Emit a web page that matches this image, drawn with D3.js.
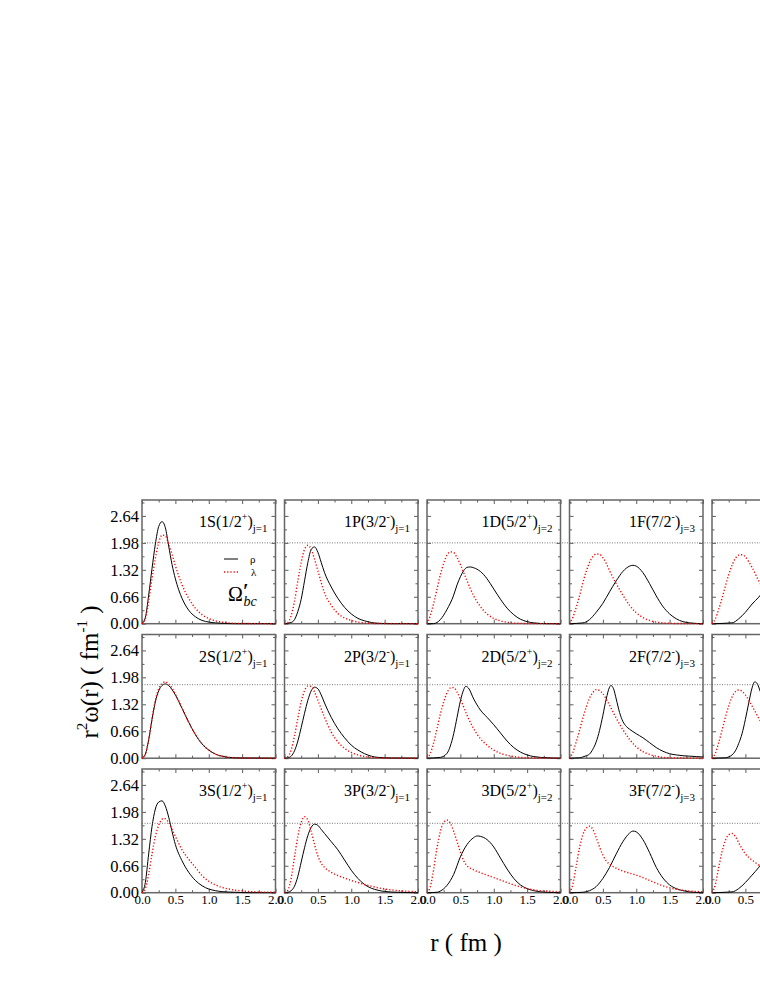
<!DOCTYPE html>
<html><head><meta charset="utf-8">
<script src="https://cdn.jsdelivr.net/npm/d3@7"></script>
<style>body{margin:0;background:#fff}svg{display:block}</style>
</head><body>
<svg id="c" width="760" height="984"></svg>
<script>
// ---------- DATA ----------
const stateNames = [["1S","1P","1D","1F","1G"],["2S","2P","2D","2F","2G"],["3S","3P","3D","3F","3G"]];
const spins = ["1/2","3/2","5/2","7/2","9/2"];
const parities = ["+","-","+","-","+"];
const jValues = ["1","1","2","3","4"];
const refLines = [1.98, 1.80, 1.70];
const xTicks = [0, 0.5, 1.0, 1.5, 2.0];
const xMinor = [0.25, 0.75, 1.25, 1.75];
const yTicks = [0, 0.66, 1.32, 1.98, 2.64];
const yMinor = [0.33, 0.99, 1.65, 2.31, 2.97];
const legendNames = ["ρ", "λ"];

const rho1S = [[0,0],[0.05,0.15],[0.1,0.7],[0.15,1.35],[0.2,1.95],[0.25,2.38],[0.3,2.5],[0.35,2.35],[0.4,1.9],[0.45,1.45],[0.5,1.1],[0.55,0.83],[0.6,0.62],[0.7,0.33],[0.8,0.17],[0.9,0.08],[1.0,0.04],[1.1,0.02],[1.2,0.01],[1.4,0],[2.0,0]];
const lam1S = [[0,0],[0.05,0.12],[0.1,0.55],[0.15,1.1],[0.2,1.6],[0.25,1.98],[0.3,2.17],[0.35,2.15],[0.4,1.95],[0.45,1.7],[0.5,1.42],[0.6,0.95],[0.7,0.62],[0.8,0.38],[0.9,0.22],[1.0,0.13],[1.1,0.07],[1.2,0.04],[1.3,0.02],[1.5,0.005],[2.0,0]];
const rho1P = [[0,0],[0.1,0.03],[0.15,0.1],[0.2,0.3],[0.25,0.6],[0.3,1.05],[0.35,1.5],[0.4,1.82],[0.45,1.88],[0.5,1.75],[0.55,1.5],[0.6,1.25],[0.7,0.9],[0.8,0.62],[0.9,0.4],[1.0,0.24],[1.1,0.13],[1.2,0.07],[1.3,0.03],[1.4,0.01],[1.6,0],[2.0,0]];
const lam1P = [[0,0],[0.05,0.03],[0.1,0.2],[0.15,0.55],[0.2,1.05],[0.25,1.5],[0.3,1.82],[0.35,1.92],[0.4,1.82],[0.45,1.58],[0.5,1.3],[0.6,0.75],[0.7,0.45],[0.8,0.25],[0.9,0.14],[1.0,0.08],[1.1,0.04],[1.2,0.02],[1.4,0.005],[2.0,0]];
const rho1D = [[0,0],[0.1,0],[0.15,0.03],[0.2,0.1],[0.3,0.35],[0.4,0.7],[0.45,0.95],[0.5,1.15],[0.55,1.3],[0.6,1.38],[0.65,1.39],[0.7,1.37],[0.8,1.28],[0.9,1.1],[1.0,0.85],[1.1,0.6],[1.2,0.38],[1.3,0.22],[1.4,0.11],[1.5,0.05],[1.6,0.02],[1.8,0],[2.0,0]];
const lam1D = [[0,0],[0.05,0.2],[0.1,0.5],[0.15,0.85],[0.2,1.2],[0.25,1.48],[0.3,1.68],[0.35,1.76],[0.4,1.74],[0.45,1.62],[0.5,1.45],[0.55,1.25],[0.6,1.05],[0.7,0.68],[0.8,0.42],[0.9,0.24],[1.0,0.13],[1.1,0.07],[1.2,0.035],[1.3,0.015],[1.5,0.005],[2.0,0]];
const rho1F = [[0,0],[0.2,0.02],[0.3,0.1],[0.4,0.28],[0.5,0.5],[0.6,0.78],[0.7,1.05],[0.8,1.28],[0.9,1.41],[0.95,1.43],[1.0,1.41],[1.1,1.25],[1.2,0.98],[1.3,0.68],[1.4,0.42],[1.5,0.24],[1.6,0.12],[1.7,0.05],[1.8,0.02],[2.0,0]];
const lam1F = [[0,0],[0.05,0.15],[0.1,0.4],[0.15,0.68],[0.2,1.0],[0.25,1.28],[0.3,1.5],[0.35,1.64],[0.4,1.71],[0.45,1.7],[0.5,1.62],[0.55,1.48],[0.6,1.3],[0.7,0.98],[0.8,0.7],[0.9,0.45],[1.0,0.27],[1.1,0.15],[1.2,0.08],[1.3,0.04],[1.4,0.02],[1.6,0.005],[2.0,0]];
const rho1G = [[0,0],[0.3,0.02],[0.4,0.12],[0.5,0.28],[0.6,0.48],[0.7,0.65],[0.8,0.85],[0.9,1.05],[1.0,1.2],[1.1,1.28],[1.2,1.28],[1.3,1.18],[1.4,0.98],[1.5,0.74],[1.6,0.5],[1.7,0.3],[1.8,0.16],[1.9,0.08],[2.0,0.04]];
const lam1G = [[0,0],[0.05,0.12],[0.1,0.35],[0.15,0.62],[0.2,0.92],[0.25,1.2],[0.3,1.43],[0.35,1.6],[0.4,1.68],[0.45,1.69],[0.5,1.64],[0.55,1.52],[0.6,1.38],[0.7,1.05],[0.8,0.78],[0.9,0.52],[1.0,0.33],[1.1,0.19],[1.2,0.1],[1.4,0.03],[1.6,0.01],[2.0,0]];

const rho2S = [[0,0],[0.05,0.1],[0.1,0.45],[0.15,0.95],[0.2,1.38],[0.25,1.65],[0.3,1.78],[0.35,1.82],[0.4,1.78],[0.45,1.68],[0.5,1.55],[0.6,1.22],[0.7,0.88],[0.8,0.58],[0.9,0.35],[1.0,0.2],[1.1,0.1],[1.2,0.05],[1.3,0.02],[1.5,0.005],[2.0,0]];
const lam2S = [[0,0],[0.05,0.1],[0.1,0.45],[0.15,0.97],[0.2,1.42],[0.25,1.7],[0.3,1.83],[0.35,1.87],[0.4,1.82],[0.45,1.72],[0.5,1.57],[0.6,1.23],[0.7,0.88],[0.8,0.58],[0.9,0.35],[1.0,0.2],[1.1,0.1],[1.2,0.05],[1.3,0.02],[1.5,0.005],[2.0,0]];
const rho2P = [[0,0],[0.05,0.01],[0.1,0.05],[0.15,0.18],[0.2,0.42],[0.25,0.75],[0.3,1.1],[0.35,1.42],[0.4,1.65],[0.45,1.74],[0.5,1.7],[0.55,1.55],[0.6,1.35],[0.7,1.0],[0.8,0.72],[0.9,0.5],[1.0,0.32],[1.1,0.2],[1.2,0.11],[1.3,0.05],[1.4,0.02],[1.6,0.005],[2.0,0]];
const lam2P = [[0,0],[0.05,0.04],[0.1,0.2],[0.15,0.55],[0.2,0.98],[0.25,1.38],[0.3,1.65],[0.35,1.77],[0.4,1.76],[0.45,1.62],[0.5,1.42],[0.6,1.0],[0.7,0.64],[0.8,0.4],[0.9,0.24],[1.0,0.14],[1.1,0.08],[1.2,0.04],[1.3,0.02],[1.5,0.005],[2.0,0]];
const rho2D = [[0,0],[0.2,0.02],[0.3,0.12],[0.35,0.3],[0.4,0.6],[0.45,1.0],[0.5,1.4],[0.55,1.68],[0.58,1.76],[0.62,1.72],[0.7,1.45],[0.8,1.18],[0.9,1.0],[1.0,0.82],[1.1,0.62],[1.2,0.42],[1.3,0.26],[1.4,0.15],[1.5,0.08],[1.6,0.04],[1.8,0.01],[2.0,0]];
const lam2D = [[0,0],[0.05,0.12],[0.1,0.38],[0.15,0.72],[0.2,1.08],[0.25,1.38],[0.3,1.6],[0.35,1.72],[0.4,1.73],[0.45,1.62],[0.5,1.45],[0.6,1.05],[0.7,0.72],[0.8,0.48],[0.9,0.32],[1.0,0.2],[1.1,0.12],[1.2,0.07],[1.3,0.04],[1.5,0.01],[2.0,0]];
const rho2F = [[0,0],[0.15,0.01],[0.2,0.03],[0.25,0.06],[0.3,0.1],[0.35,0.22],[0.4,0.4],[0.45,0.68],[0.5,1.05],[0.55,1.45],[0.6,1.74],[0.62,1.78],[0.66,1.7],[0.7,1.45],[0.75,1.12],[0.8,0.9],[0.85,0.78],[0.9,0.71],[1.0,0.6],[1.1,0.5],[1.2,0.38],[1.3,0.26],[1.4,0.17],[1.5,0.11],[1.6,0.08],[1.7,0.06],[1.8,0.05],[1.9,0.04],[2.0,0.03]];
const lam2F = [[0,0],[0.05,0.14],[0.1,0.4],[0.15,0.68],[0.2,0.98],[0.25,1.25],[0.3,1.47],[0.35,1.61],[0.4,1.68],[0.45,1.66],[0.5,1.58],[0.55,1.45],[0.6,1.3],[0.7,0.98],[0.8,0.7],[0.9,0.46],[1.0,0.28],[1.1,0.16],[1.2,0.09],[1.3,0.05],[1.4,0.02],[1.6,0.005],[2.0,0]];
const rho2G = [[0,0],[0.2,0.01],[0.25,0.03],[0.3,0.08],[0.35,0.18],[0.4,0.36],[0.45,0.6],[0.5,0.95],[0.55,1.35],[0.6,1.72],[0.64,1.87],[0.68,1.82],[0.72,1.65],[0.8,1.3],[0.9,1.05],[1.0,0.9],[1.1,0.75],[1.2,0.58],[1.3,0.42],[1.4,0.28],[1.5,0.18],[1.6,0.11],[1.7,0.07],[1.8,0.05],[2.0,0.03]];
const lam2G = [[0,0],[0.05,0.12],[0.1,0.38],[0.15,0.68],[0.2,1.0],[0.25,1.28],[0.3,1.5],[0.35,1.63],[0.4,1.67],[0.45,1.64],[0.5,1.55],[0.55,1.42],[0.6,1.28],[0.7,0.98],[0.8,0.72],[0.9,0.5],[1.0,0.33],[1.1,0.2],[1.2,0.12],[1.4,0.04],[1.6,0.01],[2.0,0]];

const rho3S = [[0,0],[0.05,0.25],[0.1,0.95],[0.15,1.62],[0.2,2.05],[0.25,2.22],[0.3,2.25],[0.35,2.12],[0.4,1.85],[0.45,1.5],[0.5,1.18],[0.6,0.78],[0.7,0.5],[0.8,0.3],[0.9,0.17],[1.0,0.09],[1.1,0.05],[1.2,0.025],[1.4,0.01],[1.6,0],[2.0,0]];
const lam3S = [[0,0],[0.05,0.1],[0.1,0.45],[0.15,0.95],[0.2,1.38],[0.25,1.65],[0.3,1.8],[0.33,1.82],[0.35,1.81],[0.4,1.72],[0.45,1.55],[0.5,1.38],[0.6,1.05],[0.7,0.82],[0.8,0.62],[0.9,0.42],[1.0,0.28],[1.1,0.19],[1.2,0.13],[1.3,0.09],[1.4,0.06],[1.5,0.045],[1.6,0.03],[1.8,0.015],[2.0,0.01]];
const rho3P = [[0,0],[0.05,0.01],[0.1,0.05],[0.15,0.16],[0.2,0.4],[0.25,0.75],[0.3,1.1],[0.35,1.4],[0.4,1.6],[0.45,1.68],[0.5,1.65],[0.55,1.55],[0.6,1.45],[0.7,1.25],[0.8,1.05],[0.9,0.8],[1.0,0.55],[1.1,0.35],[1.2,0.2],[1.3,0.11],[1.4,0.06],[1.5,0.03],[1.7,0.01],[2.0,0]];
const lam3P = [[0,0],[0.05,0.06],[0.1,0.35],[0.15,0.88],[0.2,1.38],[0.25,1.72],[0.3,1.86],[0.35,1.78],[0.4,1.5],[0.45,1.18],[0.5,0.9],[0.55,0.72],[0.6,0.62],[0.7,0.5],[0.8,0.42],[0.9,0.36],[1.0,0.3],[1.1,0.25],[1.2,0.2],[1.3,0.16],[1.4,0.12],[1.5,0.09],[1.6,0.07],[1.7,0.05],[1.8,0.04],[1.9,0.03],[2.0,0.02]];
const rho3D = [[0,0],[0.15,0.01],[0.2,0.04],[0.3,0.18],[0.4,0.45],[0.5,0.88],[0.6,1.18],[0.7,1.35],[0.75,1.39],[0.8,1.38],[0.9,1.3],[1.0,1.12],[1.1,0.85],[1.2,0.58],[1.3,0.35],[1.4,0.19],[1.5,0.1],[1.6,0.05],[1.8,0.01],[2.0,0]];
const lam3D = [[0,0],[0.05,0.15],[0.1,0.58],[0.15,1.1],[0.2,1.5],[0.25,1.72],[0.3,1.78],[0.35,1.7],[0.4,1.5],[0.45,1.25],[0.5,1.0],[0.55,0.78],[0.6,0.66],[0.7,0.56],[0.8,0.49],[0.9,0.43],[1.0,0.37],[1.1,0.31],[1.2,0.25],[1.3,0.19],[1.4,0.14],[1.5,0.1],[1.6,0.07],[1.7,0.05],[1.8,0.04],[2.0,0.02]];
const rho3F = [[0,0],[0.2,0.01],[0.3,0.05],[0.4,0.15],[0.5,0.35],[0.6,0.62],[0.7,0.95],[0.8,1.25],[0.9,1.46],[0.95,1.51],[1.0,1.49],[1.1,1.3],[1.2,0.98],[1.3,0.62],[1.4,0.36],[1.5,0.19],[1.6,0.1],[1.7,0.05],[1.8,0.02],[2.0,0]];
const lam3F = [[0,0],[0.05,0.2],[0.1,0.65],[0.15,1.1],[0.2,1.42],[0.25,1.58],[0.3,1.63],[0.35,1.55],[0.4,1.35],[0.45,1.12],[0.5,0.92],[0.55,0.78],[0.6,0.7],[0.7,0.6],[0.8,0.53],[0.9,0.48],[1.0,0.43],[1.1,0.37],[1.2,0.3],[1.3,0.23],[1.4,0.17],[1.5,0.12],[1.6,0.08],[1.7,0.06],[1.8,0.04],[1.9,0.03],[2.0,0.02]];
const rho3G = [[0,0],[0.3,0.02],[0.4,0.1],[0.5,0.25],[0.6,0.43],[0.7,0.62],[0.8,0.85],[0.9,1.05],[1.0,1.22],[1.1,1.33],[1.2,1.35],[1.3,1.25],[1.4,1.02],[1.5,0.75],[1.6,0.5],[1.7,0.3],[1.8,0.16],[1.9,0.08],[2.0,0.04]];
const lam3G = [[0,0],[0.05,0.2],[0.1,0.62],[0.15,1.0],[0.2,1.28],[0.25,1.42],[0.3,1.45],[0.35,1.38],[0.4,1.22],[0.45,1.08],[0.5,0.95],[0.6,0.8],[0.7,0.68],[0.8,0.6],[0.9,0.54],[1.0,0.48],[1.2,0.38],[1.4,0.27],[1.6,0.17],[1.8,0.1],[2.0,0.06]];

const rhoCurves = [[rho1S,rho1P,rho1D,rho1F,rho1G],[rho2S,rho2P,rho2D,rho2F,rho2G],[rho3S,rho3P,rho3D,rho3F,rho3G]];
const lamCurves = [[lam1S,lam1P,lam1D,lam1F,lam1G],[lam2S,lam2P,lam2D,lam2F,lam2G],[lam3S,lam3P,lam3D,lam3F,lam3G]];

// ---------- LAYOUT ----------
const FONT = "'Liberation Serif','Times New Roman',serif";
const W = 760;
const colLeft = [142, 284.5, 427, 569.5, 712];
const rowTop = [500, 634.5, 769];
const panelW = 133.5, panelH = 123.7;
const svg = d3.select("#c");
const x = d3.scaleLinear().domain([0, 2]).range([0, panelW]);
const y = d3.scaleLinear().domain([0, 3.03]).range([panelH, 0]);
const line = d3.line().x(d => x(d[0])).y(d => y(d[1])).curve(d3.curveMonotoneX);

function styleAxis(g) {
  g.select(".domain").remove();
  g.selectAll(".tick line").attr("stroke", "#333").attr("stroke-width", 0.8);
  g.selectAll("text").attr("font-family", FONT).attr("fill", "#000");
}

rowTop.forEach((top, r) => {
  colLeft.forEach((left, c) => {
    const g = svg.append("g").attr("transform", `translate(${left},${top})`);
    g.append("g").call(d3.axisLeft(y).tickValues(yTicks).tickSizeInner(-4).tickSizeOuter(0).tickPadding(3)
        .tickFormat(c === 0 ? d3.format(".2f") : () => ""))
      .call(styleAxis).selectAll("text").attr("font-size", 16.5);
    g.append("g").call(d3.axisLeft(y).tickValues(yMinor).tickSizeInner(-2.5).tickSizeOuter(0).tickFormat(() => "")).call(styleAxis);
    g.append("g").attr("transform", `translate(${panelW},0)`)
      .call(d3.axisRight(y).tickValues(yTicks).tickSizeInner(-4).tickSizeOuter(0).tickFormat(() => "")).call(styleAxis);
    g.append("g").attr("transform", `translate(${panelW},0)`)
      .call(d3.axisRight(y).tickValues(yMinor).tickSizeInner(-2.5).tickSizeOuter(0).tickFormat(() => "")).call(styleAxis);
    g.append("g").attr("transform", `translate(0,${panelH})`)
      .call(d3.axisBottom(x).tickValues(xTicks).tickSizeInner(-4).tickSizeOuter(0).tickPadding(2)
        .tickFormat(d => (r === 2 && left + x(d) + 8 <= W) ? d3.format(".1f")(d) : ""))
      .call(styleAxis).selectAll("text").attr("font-size", 13);
    g.append("g").attr("transform", `translate(0,${panelH})`)
      .call(d3.axisBottom(x).tickValues(xMinor).tickSizeInner(-2.5).tickSizeOuter(0).tickFormat(() => "")).call(styleAxis);
    g.append("g").call(d3.axisTop(x).tickValues(xTicks).tickSizeInner(-4).tickSizeOuter(0).tickFormat(() => "")).call(styleAxis);
    g.append("g").call(d3.axisTop(x).tickValues(xMinor).tickSizeInner(-2.5).tickSizeOuter(0).tickFormat(() => "")).call(styleAxis);

    g.append("rect").attr("width", panelW).attr("height", panelH)
      .attr("fill", "none").attr("stroke", "#666").attr("stroke-width", 1.5);

    g.append("path").datum(rhoCurves[r][c]).attr("d", line)
      .attr("fill", "none").attr("stroke", "#000").attr("stroke-width", 1);
    g.append("path").datum(lamCurves[r][c]).attr("d", line)
      .attr("fill", "none").attr("stroke", "#ff0000").attr("stroke-width", 1.4)
      .attr("stroke-dasharray", "1.2 2");

    if (left + panelW <= W) {
      const t = g.append("text").attr("x", panelW - 8).attr("y", 27)
        .attr("text-anchor", "end").attr("font-family", FONT).attr("font-size", 16).attr("fill", "#000");
      t.append("tspan").text(`${stateNames[r][c]}(${spins[c]}`);
      t.append("tspan").attr("font-size", 10).attr("dy", -7).text(parities[c]);
      t.append("tspan").attr("dy", 7).text(")");
      t.append("tspan").attr("font-size", 11).attr("dy", 5).text(`j=${jValues[c]}`);
    }
  });

  const ry = top + y(refLines[r]);
  svg.append("line").attr("x1", colLeft[0]).attr("x2", W).attr("y1", ry).attr("y2", ry)
    .attr("stroke", "#555").attr("stroke-width", 0.8).attr("stroke-dasharray", "1 1.5");
});

// legend in first panel
const lg = svg.append("g").attr("transform", `translate(${colLeft[0]},${rowTop[0]})`);
lg.append("line").attr("x1", 82).attr("x2", 96).attr("y1", 59).attr("y2", 59).attr("stroke", "#000").attr("stroke-width", 1);
lg.append("text").attr("x", 108).attr("y", 63).attr("font-family", FONT).attr("font-size", 11).text(legendNames[0]);
lg.append("line").attr("x1", 82).attr("x2", 96).attr("y1", 72).attr("y2", 72).attr("stroke", "#ff0000").attr("stroke-width", 1.4).attr("stroke-dasharray", "1.2 2");
lg.append("text").attr("x", 109).attr("y", 76).attr("font-family", FONT).attr("font-size", 11).text(legendNames[1]);
const om = lg.append("text").attr("x", 86).attr("y", 101).attr("font-family", FONT).attr("font-size", 20);
om.append("tspan").text("Ω");
om.append("tspan").attr("font-size", 20).attr("dy", -3).attr("font-weight", "bold").text("′");
om.append("tspan").attr("font-size", 14).attr("font-style", "italic").attr("dx", -5).attr("dy", 8).text("bc");

// axis titles
const yt = svg.append("text").attr("transform", "translate(98,672) rotate(-90)")
  .attr("text-anchor", "middle").attr("font-family", FONT).attr("font-size", 25).attr("fill", "#000");
yt.append("tspan").text("r");
yt.append("tspan").attr("font-size", 15).attr("dy", -11).text("2");
yt.append("tspan").attr("dy", 11).text("ω(r) ( fm");
yt.append("tspan").attr("font-size", 15).attr("dy", -11).text("-1");
yt.append("tspan").attr("dy", 11).text(" )");

svg.append("text").attr("x", 466).attr("y", 951).attr("text-anchor", "middle")
  .attr("font-family", FONT).attr("font-size", 25).attr("fill", "#000").text("r ( fm )");
</script>
</body></html>
